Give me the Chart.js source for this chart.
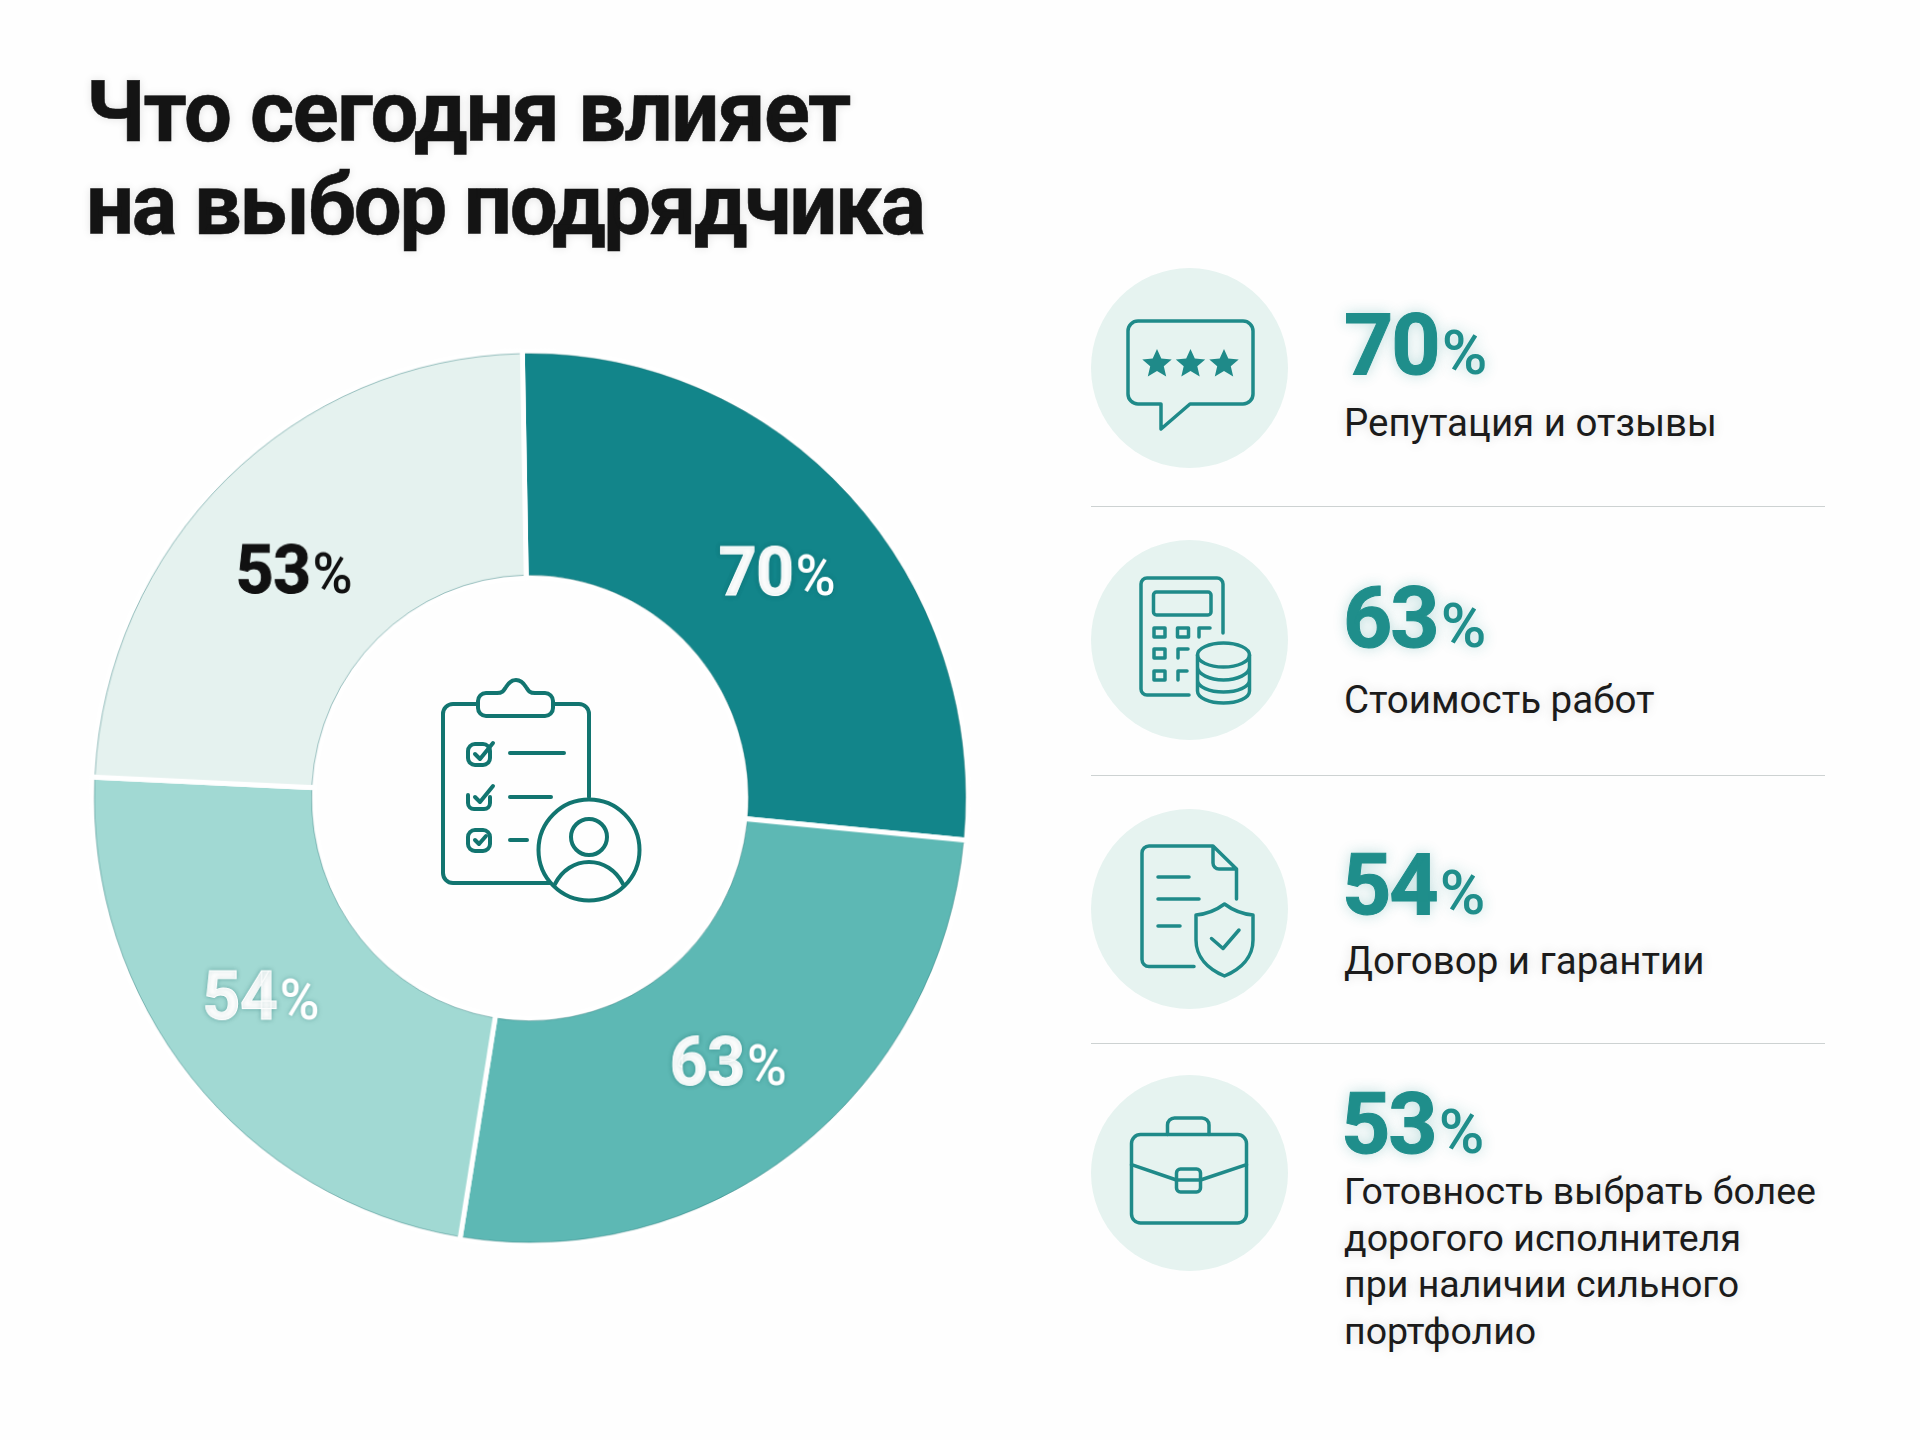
<!DOCTYPE html>
<html lang="ru">
<head>
<meta charset="utf-8">
<title>Что сегодня влияет на выбор подрядчика</title>
<script src="https://cdn.jsdelivr.net/npm/chart.js@4"></script>
<style>
    html, body { margin: 0; background: #fefefe; }
    #page { position: relative; width: 1920px; height: 1440px; overflow: hidden; font-family: Roboto, sans-serif; }
    #title { position: absolute; left: 86px; top: 66px; font-size: 85px; line-height: 93px; font-weight: 700; letter-spacing: -1.5px; -webkit-text-stroke: .6px #141414; color: #141414; white-space: nowrap; text-shadow: 0 0 10px rgba(0, 0, 0, .12); }
    #title span { letter-spacing: -2.3px; }
    /* the ring in the picture is a little taller than it is wide */
    #chartBox { position: absolute; left: 85px; top: 353px; width: 890px; height: 890px; transform: scale(.99, 1.01); }
    #icons { position: absolute; left: 0; top: 0; }
    .circle { position: absolute; left: 1091px; width: 197px; height: 200px; border-radius: 50%; background: #e6f3f0; }
    .divider { position: absolute; left: 1091px; width: 734px; height: 1px; background: #cdd2d2; }
    .pct { position: absolute; font-size: 86px; line-height: 86px; font-weight: 700; letter-spacing: -2px; -webkit-text-stroke: 1px #1f8e8b; color: #1f8e8b; white-space: nowrap; text-shadow: 0 0 14px rgba(30, 140, 140, .3); }
    .pct span { font-size: 62px; font-weight: 500; letter-spacing: -1px; -webkit-text-stroke: 0; margin-left: 3px; }
    .label { position: absolute; left: 1344px; font-size: 38.5px; line-height: 46.7px; color: #1b1b1b; white-space: pre; text-shadow: 0 0 12px rgba(0, 0, 0, .14); }
    #label3 { font-size: 37.5px; }
</style>
</head>
<body>
<div id="page">
    <div id="title">Что сегодня влияет<br><span>на выбор подрядчика</span></div>

    <div class="circle" style="top: 268px"></div>
    <div class="circle" style="top: 540px"></div>
    <div class="circle" style="top: 809px"></div>
    <div class="circle" style="top: 1075px; height: 196px"></div>

    <div class="divider" style="top: 506px"></div>
    <div class="divider" style="top: 775px"></div>
    <div class="divider" style="top: 1043px"></div>

    <div class="pct" id="pct0" style="left: 1344px; top: 302px"></div>
    <div class="pct" id="pct1" style="left: 1343px; top: 575px"></div>
    <div class="pct" id="pct2" style="left: 1342px; top: 842px"></div>
    <div class="pct" id="pct3" style="left: 1341px; top: 1081px"></div>

    <div class="label" id="label0" style="top: 400px"></div>
    <div class="label" id="label1" style="top: 677px"></div>
    <div class="label" id="label2" style="top: 938px"></div>
    <div class="label" id="label3" style="top: 1168px"></div>

    <div id="chartBox"><canvas id="donutChart" width="890" height="890"></canvas></div>

    <svg id="icons" width="1920" height="1440" fill="none" stroke-linecap="round" stroke-linejoin="round">
        <!-- center clipboard -->
        <g stroke="#127570" stroke-width="4">
            <path d="M550 883H453a10 10 0 0 1-10-10V714a10 10 0 0 1 10-10H478M553 704h26a10 10 0 0 1 10 10V797"/>
            <path d="M486 693H497c6 0 7-3 9-6 3-5 6-7 10-7s7 2 10 7c2 3 3 6 9 6h10a8 8 0 0 1 8 8v7a8 8 0 0 1-8 8H486a8 8 0 0 1-8-8v-7a8 8 0 0 1 8-8z"/>
            <rect x="468" y="744" width="22" height="21" rx="7"/>
            <path d="M475 754l5 5 13-16"/>
            <path d="M510 753H564M510 797H551M510 840H527"/>
            <path d="M468 795v8a6 6 0 0 0 6 6h10a6 6 0 0 0 6-6v-6"/>
            <path d="M475 797l5 5 13-16"/>
            <rect x="468" y="830" width="22" height="21" rx="7"/>
            <path d="M475 840l4 4 7-8"/>
            <circle cx="589" cy="850" r="50.5"/>
            <circle cx="589" cy="837" r="18"/>
            <path d="M555 884c7-14 20-22 34-22s27 8 34 22"/>
        </g>
        <g stroke="#1f8a89" stroke-width="3.500">
            <!-- reviews -->
            <path d="M1138 321H1243a10 10 0 0 1 10 10V394a10 10 0 0 1-10 10H1190L1161 429V404H1138a10 10 0 0 1-10-10V331a10 10 0 0 1 10-10z"/>
            <g fill="#1f8a89" stroke="none">
                <path id="star" d="M1157 349l4.300 9.600 10.400.9-7.900 6.800 2.400 10.200-9.200-5.500-9.200 5.500 2.400-10.200-7.900-6.800 10.400-.9z"/>
                <use href="#star" x="33.500"/>
                <use href="#star" x="67"/>
            </g>
            <!-- calculator -->
            <path d="M1189 695H1147a6 6 0 0 1-6-6V584a6 6 0 0 1 6-6H1217a6 6 0 0 1 6 6V633"/>
            <rect x="1153.500" y="592" width="57.500" height="23" rx="3"/>
            <path d="M1154 628h11v9h-11zM1177.500 628h11v9h-11zM1199 637v-9h11M1154 649h11v9h-11zM1178 658v-9h10M1154 671h11v9h-11zM1178 680v-9h9"/>
            <ellipse cx="1223.500" cy="655" rx="26" ry="12"/>
            <path d="M1197.500 655V691c0 7 12 12 26 12s26-5 26-12V655M1197.500 667c0 7 12 13 26 13s26-6 26-13M1197.500 680c0 7 12 12 26 12s26-5 26-12"/>
            <!-- contract -->
            <path d="M1194 966.500H1149a7 7 0 0 1-7-7V853a7 7 0 0 1 7-7H1213L1236.500 869V899M1213 846V863a6 6 0 0 0 6 6H1236.500"/>
            <path d="M1158 877H1189M1158 899H1199M1158 926H1180"/>
            <path d="M1224.500 904c8 6 17 10 28.500 11V940c0 17-12 29-28.500 36-16.500-7-28.500-19-28.500-36V915c11.500-1 20.500-5 28.500-11z"/>
            <path d="M1211.500 938.500L1223 948.500 1239 930"/>
            <!-- briefcase -->
            <rect x="1131.500" y="1134.600" width="115" height="88.400" rx="9"/>
            <path d="M1167.500 1134.600V1125a7 7 0 0 1 7-7H1202a7 7 0 0 1 7 7V1134.600"/>
            <path d="M1131.500 1164.600L1176.500 1180M1200.500 1180L1246.500 1164.600"/>
            <rect x="1176.500" y="1169" width="24" height="23" rx="4"/>
            <path d="M1176.500 1180H1200.500"/>
        </g>
    </svg>
</div>

<script>
    const categories = [
        'Репутация и отзывы',
        'Стоимость работ',
        'Договор и гарантии',
        'Готовность выбрать более\nдорогого исполнителя\nпри наличии сильного\nпортфолио'
    ];
    const percentValues = [70, 63, 54, 53];
    // the ring is not drawn in proportion to its labels, so the arcs are read off the picture (degrees)
    const arcSweeps = [96.4, 93.8, 83.5, 86.3];
    const sliceColors = ['#12858a', '#5db8b4', '#a1d9d3', '#e5f2ef'];
    const labelColors = ['#ffffff', '#ffffff', '#ffffff', '#111111'];

    // right side list
    percentValues.forEach((value, i) => {
        document.getElementById('pct' + i).innerHTML = value + '<span>%</span>';
        document.getElementById('label' + i).textContent = categories[i];
    });

    // thin edge on the arcs and the value in the middle of each one
    const sliceLabels = {
        id: 'sliceLabels',
        afterDatasetsDraw(chart) {
            const ctx = chart.ctx;
            const border = chart.data.datasets[0].borderWidth;
            const nudge = [[7, -1], [-2, -1], [-15.5, -13], [-8.5, 10]];
            chart.getDatasetMeta(0).data.forEach((arc, i) => {
                const gap = 0.006;
                ctx.save();
                ctx.strokeStyle = 'rgba(15, 105, 105, 0.4)';
                ctx.lineWidth = 1;
                ctx.beginPath();
                ctx.arc(arc.x, arc.y, arc.outerRadius - border / 2, arc.startAngle + gap, arc.endAngle - gap);
                ctx.stroke();
                ctx.beginPath();
                ctx.arc(arc.x, arc.y, arc.innerRadius + border / 2, arc.startAngle + 2 * gap, arc.endAngle - 2 * gap);
                ctx.stroke();

                const center = arc.getCenterPoint();
                const big = String(percentValues[i]);
                const bigFont = '700 67px Roboto';
                const smallFont = '500 55px Roboto';
                ctx.letterSpacing = '-0.5px';
                ctx.font = bigFont;
                const bigWidth = ctx.measureText(big).width;
                ctx.font = smallFont;
                const smallWidth = ctx.measureText('%').width;
                const left = center.x + nudge[i][0] - (bigWidth + smallWidth + 2) / 2;
                const baseline = center.y + nudge[i][1] + 24;
                ctx.fillStyle = labelColors[i];
                ctx.strokeStyle = labelColors[i];
                ctx.lineWidth = 1;
                ctx.textBaseline = 'alphabetic';
                ctx.textAlign = 'left';
                ctx.shadowColor = 'rgba(0, 90, 90, 0.35)';
                ctx.shadowBlur = i === 3 ? 0 : 4;
                ctx.font = bigFont;
                ctx.fillText(big, left, baseline);
                ctx.strokeText(big, left, baseline);
                ctx.font = smallFont;
                ctx.fillText('%', left + bigWidth + 2, baseline);
                ctx.restore();
            });
        }
    };

    const donutChart = document.getElementById('donutChart').getContext('2d');
    new Chart(donutChart, {
        type: 'doughnut',
        data: {
            labels: categories.map(name => name.replace(/\n/g, ' ')),
            datasets: [{
                data: arcSweeps,
                backgroundColor: sliceColors,
                borderColor: '#ffffff',
                borderWidth: 5,
                borderJoinStyle: 'bevel'
            }]
        },
        options: {
            responsive: false,
            animation: false,
            rotation: -1,
            cutout: '49.3%',
            plugins: {
                legend: { display: false },
                tooltip: { enabled: false }
            }
        },
        plugins: [sliceLabels]
    });
</script>
</body>
</html>
